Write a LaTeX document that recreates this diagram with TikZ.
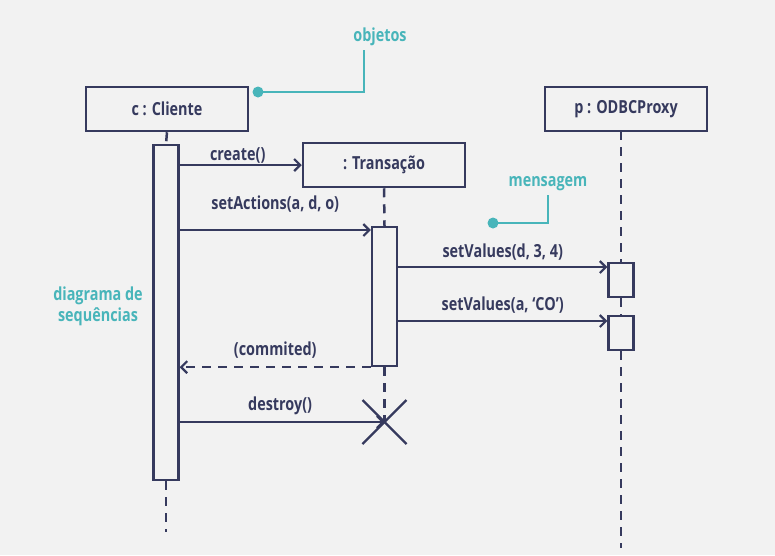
\documentclass[tikz,border=0pt]{standalone}
\usepackage{fontspec}
\setmainfont{Open Sans}[FakeStretch=0.8]
\usetikzlibrary{arrows.meta}
\definecolor{navy}{HTML}{363A5E}
\definecolor{tealnote}{HTML}{48B5BA}
\definecolor{paper}{HTML}{F2F2F2}

\begin{document}
\begin{tikzpicture}[x=1pt, y=-1pt,
    every node/.style={font=\fontsize{18}{21}\selectfont\bfseries, text=navy},
    object/.style={draw=navy, line width=2.5pt, fill=paper, minimum width=162pt,
    minimum height=44pt, inner sep=0pt},
    activation/.style={draw=navy, line width=2.3pt, fill=paper, minimum width=25pt,
    inner sep=0pt},
    lifeline/.style={draw=navy, line width=2.5pt, dash pattern=on 9pt off 7pt},
    msg/.style={draw=navy, line width=2.2pt, -{Straight Barb[length=6pt, width=12pt]}},
    reply/.style={msg, dash pattern=on 9pt off 7pt},
    lbl/.style={inner sep=0pt},
    note/.style={text=tealnote, inner sep=0pt},
    noteline/.style={draw=tealnote, line width=2.5pt}
    ]

\useasboundingbox[fill=paper] (0,0) rectangle (775,555);

% objetos
\node[object] (cli) at (167,109) {c : Cliente};
\node[object] (prx) at (626,109) {p : ODBCProxy};
\node[object] (trs) at (384,165) {: Transação};

% barras de ativacao
\node[activation, minimum height=335pt] (acli) at (166,312.5) {};
\node[activation, minimum height=139pt] (atrs) at (384.5,296.5) {};
\node[activation, minimum height=34pt] (aprx1) at (621,280) {};
\node[activation, minimum height=34pt] (aprx2) at (621,333) {};

\coordinate (cend) at (166,532);
\coordinate (xdel) at (384.5,422);
\coordinate (ptop) at (621,131);
\coordinate (pend) at (621,548);

% linhas de vida
\draw[lifeline] (cli.south) -- (acli.north);
\draw[lifeline] (acli.south) -- (cend);
\draw[lifeline] (trs.south) -- (atrs.north);
\draw[lifeline] (atrs.south) -- (xdel);
\draw[lifeline] (ptop) -- (aprx1.north);
\draw[lifeline] (aprx1.south) -- (aprx2.north);
\draw[lifeline] (aprx2.south) -- (pend);

% mensagens
\draw[msg] (acli.east |- trs.west) -- (trs.west)
    node[lbl, midway, above=1pt, xshift=-3pt] {create()};
\draw[msg] (acli.east |- 0,230) -- (atrs.west |- 0,230)
    node[lbl, midway, above=17pt] {setActions(a, d, o)};
\draw[msg] (atrs.east |- 0,267) -- (aprx1.west |- 0,267)
    node[lbl, midway, above=6pt] {setValues(d, 3, 4)};
\draw[msg] (atrs.east |- 0,321) -- (aprx2.west |- 0,321)
    node[lbl, midway, above=7pt] {setValues(a, ‘CO’)};
\draw[reply] (atrs.west |- atrs.south) -- (acli.east |- atrs.south)
    node[lbl, midway, above=8pt] {(commited)};
\draw[msg] (acli.east |- xdel) -- (xdel)
    node[lbl, midway, above=6pt, xshift=-2pt] {destroy()};

% destruicao
\draw[navy, line width=2.2pt] (xdel) ++(-22,-22) -- ++(44,44);
\draw[navy, line width=2.2pt] (xdel) ++(22,-22) -- ++(-44,44);

% notas
\node[note] (objlbl) at (380,37) {objetos};
\coordinate (objdot) at (258,92);
\draw[noteline] (objdot) -| ([xshift=-16pt, yshift=-4pt]objlbl.south);
\fill[tealnote] (objdot) circle (5.5pt);

\node[note] (msglbl) at (548,184) {mensagem};
\coordinate (msgdot) at (493,223);
\draw[noteline] (msgdot) -| ([yshift=-4pt]msglbl.south);
\fill[tealnote] (msgdot) circle (5.5pt);

\node[note, align=center] (seqlbl) at (98,306) {diagrama de\\sequências};

\end{tikzpicture}
\end{document}
